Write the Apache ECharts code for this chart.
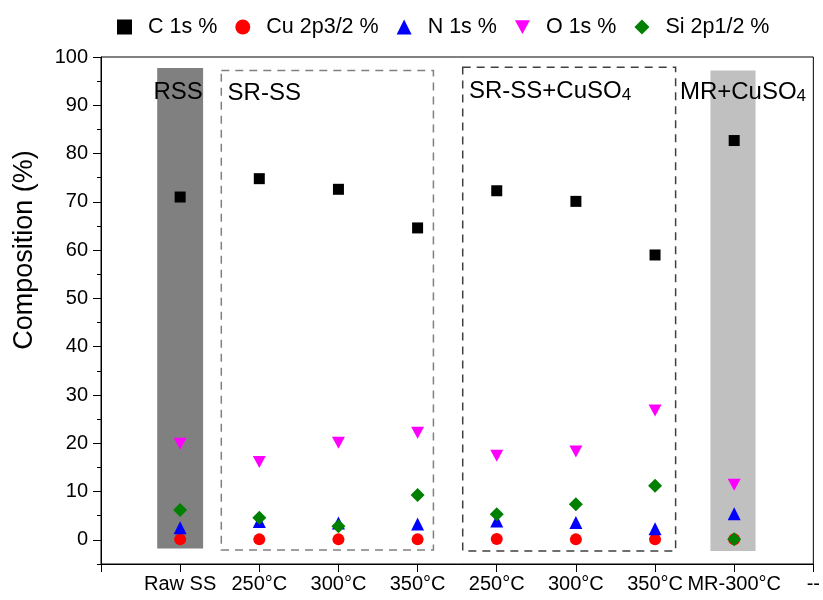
<!DOCTYPE html>
<html>
<head>
<meta charset="utf-8">
<script src="https://cdn.jsdelivr.net/npm/echarts@6/dist/echarts.min.js"></script>
<style>
  html, body { margin: 0; padding: 0; background: #fff; }
  #chart { width: 823px; height: 600px; }
</style>
</head>
<body>
<div id="chart"></div>
<script>
// Sample groups along the x axis (position 0 is the blank left edge, 9 the right edge)
const sampleLabels = ['', 'Raw SS', '250°C', '300°C', '350°C', '250°C', '300°C', '350°C', 'MR-300°C', '--'];
const samplePositions = [1, 2, 3, 4, 5, 6, 7, 8];

// Surface composition from XPS (%)
const c1s   = [71.0, 74.8, 72.6, 64.6, 72.3, 70.1, 59.0, 82.7];
const cu2p  = [0.1, 0.1, 0.1, 0.1, 0.2, 0.1, 0.1, 0.1];
const n1s   = [2.5, 3.8, 3.5, 3.3, 3.9, 3.6, 2.3, 5.4];
const o1s   = [19.9, 16.1, 20.1, 22.2, 17.4, 18.3, 26.8, 11.4];
const si2p  = [6.2, 4.6, 2.8, 9.3, 5.3, 7.4, 11.2, 0.1];

const yMajorTicks = [0, 10, 20, 30, 40, 50, 60, 70, 80, 90, 100];

const FONT = '"Liberation Sans", Arial, sans-serif';

function pairs(values) {
  return values.map((v, i) => [samplePositions[i], v]);
}

const downTriangle = 'path://M0,0 L12,0 L6,11 Z';

const seriesDefs = [
  { name: 'C 1s %',       data: c1s,  symbol: 'rect',       size: 11, color: '#000000' },
  { name: 'Cu 2p3/2 %',   data: cu2p, symbol: 'circle',     size: 12, color: '#ff0000' },
  { name: 'N 1s %',       data: n1s,  symbol: 'triangle',   size: 13, color: '#0000ff' },
  { name: 'O 1s %',       data: o1s,  symbol: downTriangle, size: [13, 12], color: '#ff00ff' },
  { name: 'Si 2p1/2 %',   data: si2p, symbol: 'diamond',    size: 14, color: '#008000' }
];

const groupLabel = { fontSize: 24, color: '#000', fontFamily: FONT };
const subscript = { s: { fontSize: 17, fontFamily: FONT, color: '#000', verticalAlign: 'bottom', lineHeight: 22 } };

const chart = echarts.init(document.getElementById('chart'), null, { renderer: 'canvas' });

chart.setOption({
  animation: false,
  backgroundColor: '#fff',
  textStyle: { fontFamily: FONT },
  grid: {
    left: 101, right: 6, top: 57, bottom: 36,
    show: true, borderColor: '#000', borderWidth: 1, backgroundColor: 'transparent'
  },
  legend: {
    left: 112, top: 11,
    itemWidth: 15, itemHeight: 15, itemGap: 18,
    textStyle: { fontSize: 21.5, color: '#000', fontFamily: FONT, padding: [0, 0, 0, 11] },
    data: seriesDefs.map(s => s.name)
  },
  graphic: [{
    type: 'text',
    x: 25, y: 250,
    rotation: Math.PI / 2,
    style: {
      text: 'Composition (%)',
      fontSize: 27, fontFamily: FONT, fill: '#000',
      textAlign: 'center', textVerticalAlign: 'middle'
    }
  }],
  xAxis: {
    type: 'value', min: 0, max: 9, interval: 1,
    axisLine: { onZero: false, lineStyle: { color: '#000', width: 1 } },
    axisTick: { inside: false, length: 8, lineStyle: { color: '#000' } },
    axisLabel: {
      fontSize: 20, color: '#000', fontFamily: FONT, margin: 10,
      formatter: v => sampleLabels[Math.round(v)] || ''
    },
    splitLine: { show: false }
  },
  yAxis: [{
    type: 'value', min: -5, max: 100,
    axisLine: { show: true, onZero: false, lineStyle: { color: '#000', width: 1 } },
    axisTick: { show: true, length: 8, customValues: yMajorTicks, lineStyle: { color: '#000' } },
    axisLabel: { fontSize: 20, color: '#000', fontFamily: FONT, margin: 13, customValues: yMajorTicks },
    splitLine: { show: false }
  }, {
    type: 'value', min: -5, max: 100, interval: 5, position: 'left',
    axisLine: { show: false, onZero: false },
    axisTick: { show: true, length: 4, lineStyle: { color: '#000' } },
    axisLabel: { show: false },
    splitLine: { show: false }
  }],
  series: [
    {
      // shaded and dashed boxes grouping the samples
      name: 'groups', type: 'scatter', data: [], z: 1, silent: true,
      markArea: {
        silent: true,
        data: [
          [{
            coord: [0.71, 97.7],
            itemStyle: { color: '#808080', borderWidth: 0 },
            label: { show: true, position: 'insideTop', distance: 0, offset: [-2, 12], formatter: 'RSS', ...groupLabel }
          }, { coord: [1.29, -1.8] }],
          [{
            coord: [1.52, 97.2],
            itemStyle: { color: 'transparent', borderColor: '#808080', borderWidth: 1.5, borderType: [8, 6] },
            label: { show: true, position: 'insideTopLeft', distance: 0, offset: [7, 12], formatter: 'SR-SS', ...groupLabel }
          }, { coord: [4.2, -2.1] }],
          [{
            coord: [4.57, 97.9],
            itemStyle: { color: 'transparent', borderColor: '#404040', borderWidth: 1.5, borderType: [8, 6] },
            label: {
              show: true, position: 'insideTopLeft', distance: 0, offset: [7, 13],
              formatter: 'SR-SS+CuSO{s|4}', ...groupLabel, rich: subscript
            }
          }, { coord: [7.26, -2.3] }],
          [{
            coord: [7.7, 97.2],
            itemStyle: { color: '#c0c0c0', borderWidth: 0 },
            label: {
              show: true, position: 'insideTop', distance: 0, offset: [10, 10],
              formatter: 'MR+CuSO{s|4}', ...groupLabel, rich: subscript
            }
          }, { coord: [8.27, -2.3] }]
        ]
      }
    },
    ...seriesDefs.map(s => ({
      name: s.name, type: 'scatter', z: 3,
      symbol: s.symbol, symbolSize: s.size,
      itemStyle: { color: s.color, opacity: 1 },
      data: pairs(s.data)
    }))
  ]
});
</script>
</body>
</html>
